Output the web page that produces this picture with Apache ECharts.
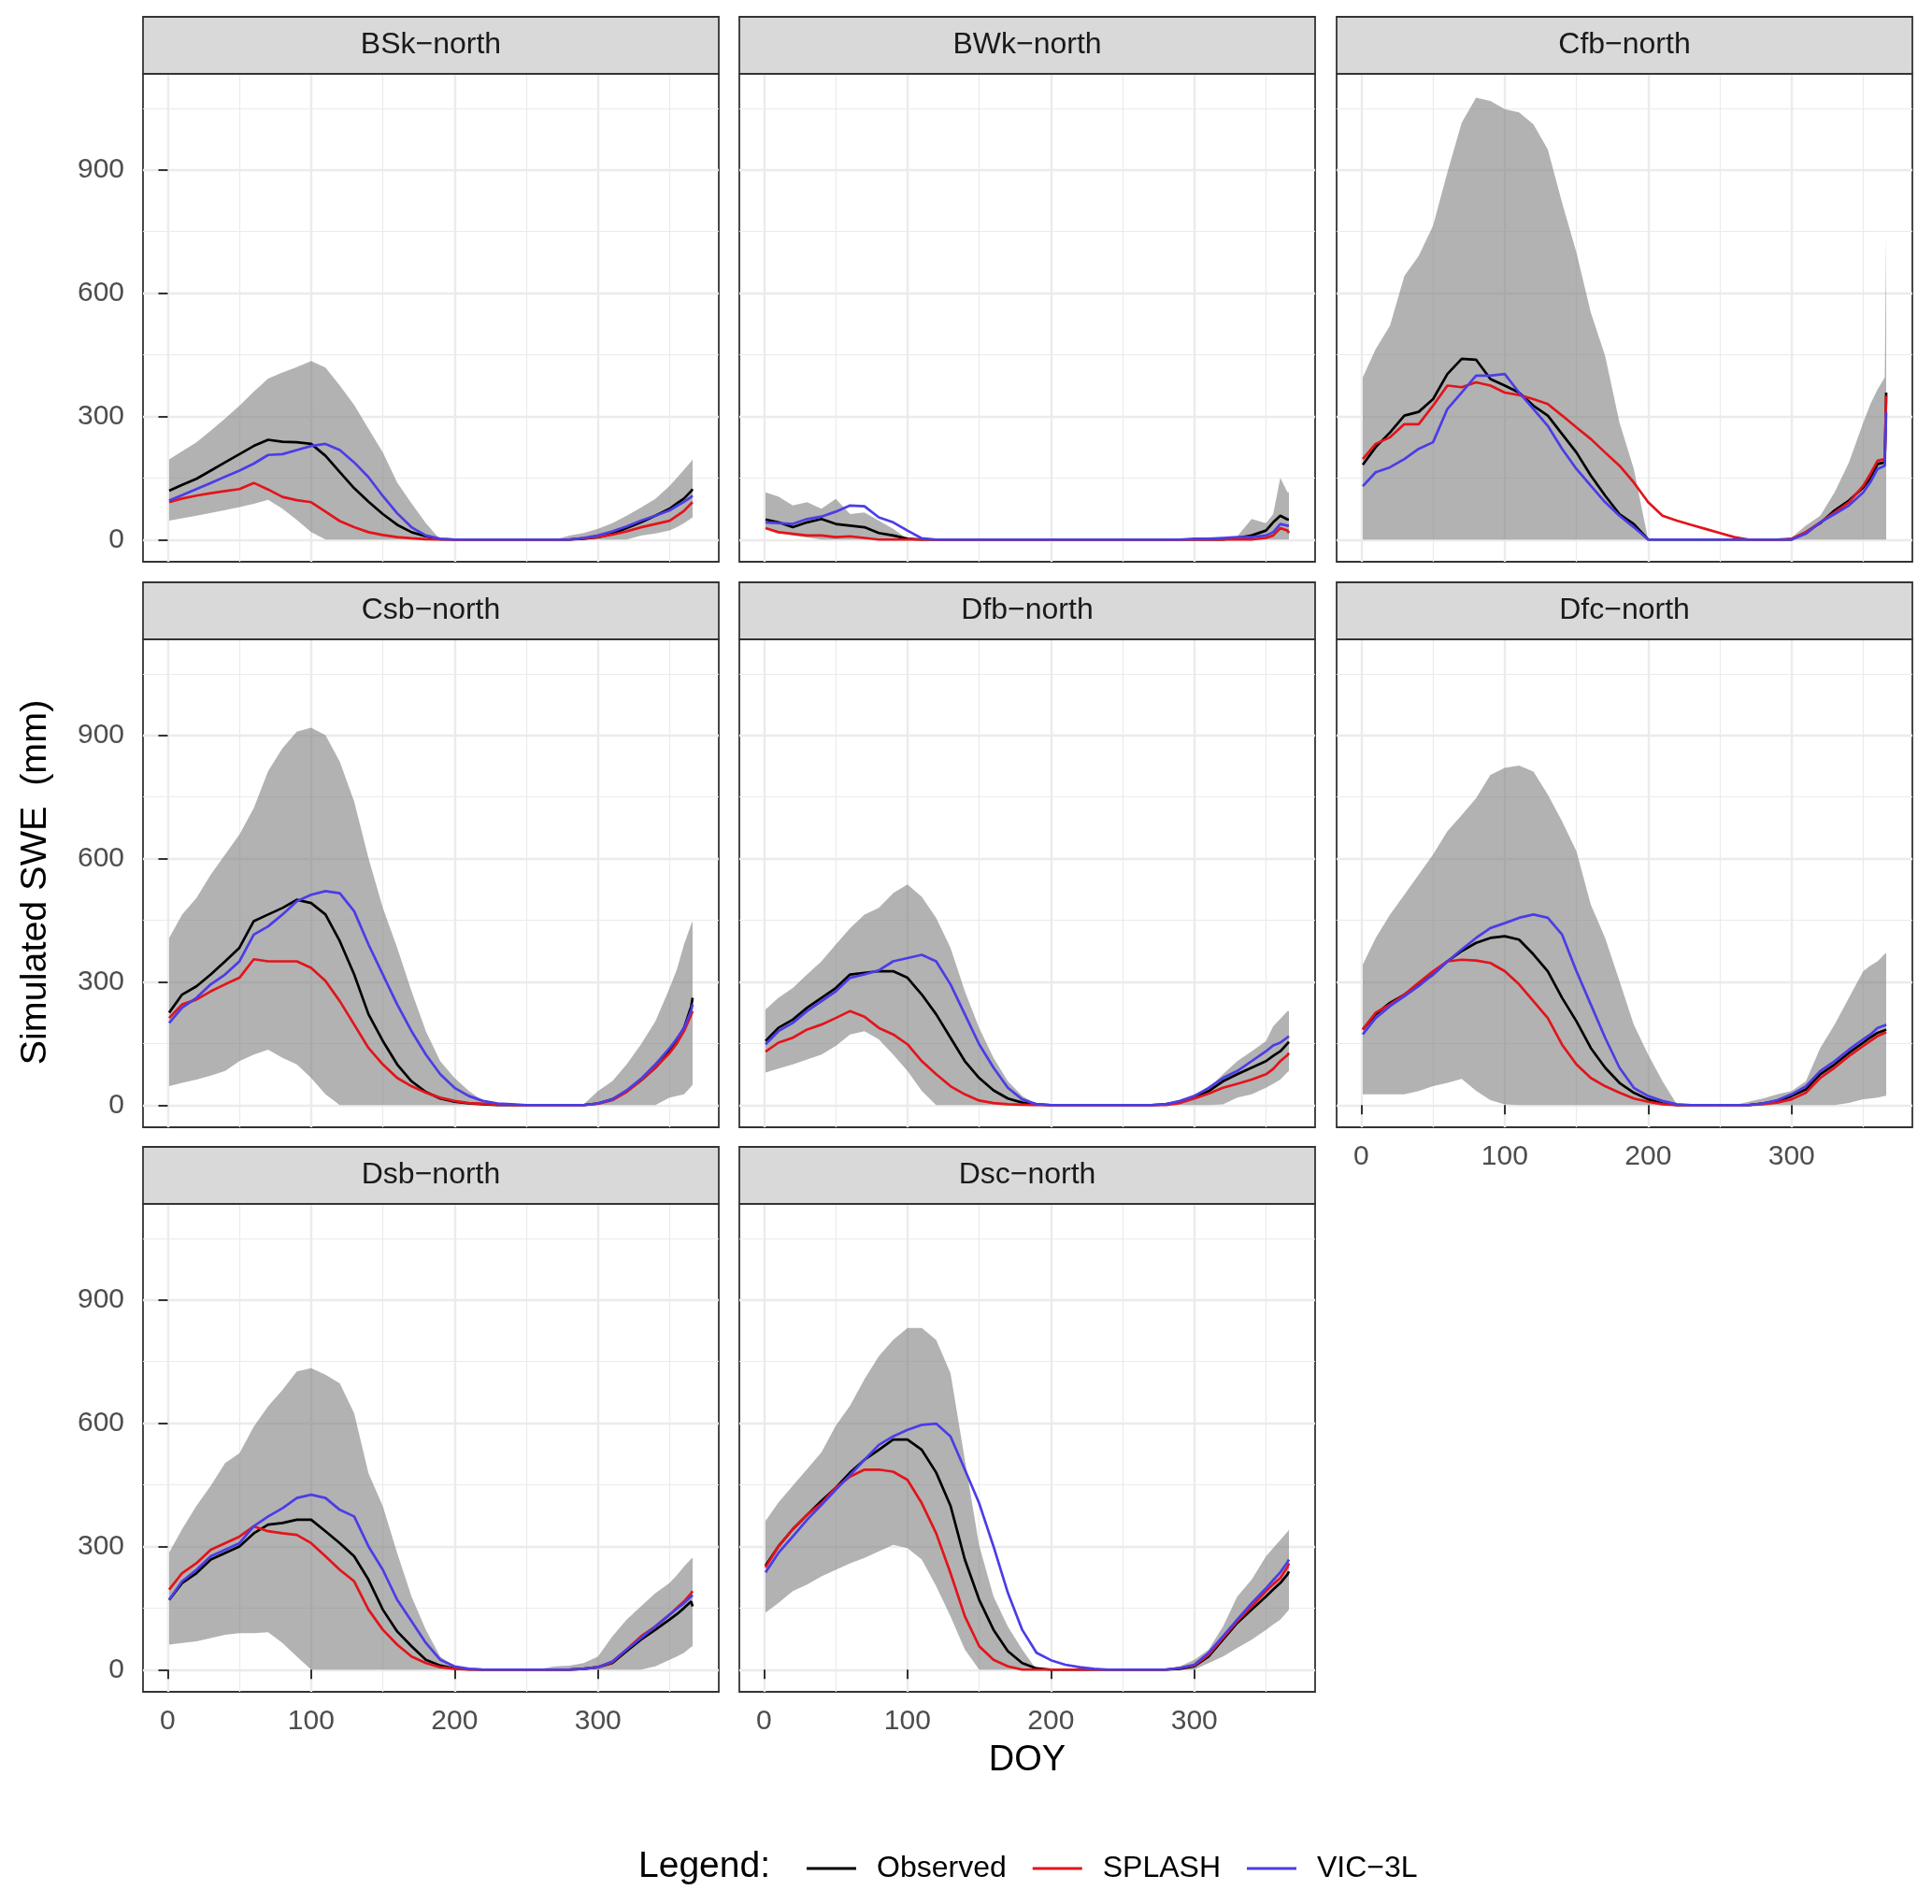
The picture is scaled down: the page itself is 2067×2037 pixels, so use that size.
<!DOCTYPE html>
<html>
<head>
<meta charset="utf-8">
<script src="https://cdn.jsdelivr.net/npm/echarts@6/dist/echarts.min.js"></script>
<style>
  html, body { margin: 0; padding: 0; background: #fff; }
  #chart { width: 2067px; height: 2037px; }
</style>
</head>
<body>
<div id="chart"></div>
<script>
// day of year, shared by every panel
const DOY = [1, 10, 20, 30, 40, 50, 60, 70, 80, 90, 100, 110, 120, 130, 140, 150, 160, 170, 180, 190,
  200, 210, 220, 230, 240, 250, 260, 270, 280, 290, 300, 310, 320, 330, 340, 350, 355, 360, 365, 366];

const xTicks = [0, 100, 200, 300];
const xMinor = [50, 150, 250, 350];
const yTicks = [0, 300, 600, 900];
const yMinor = [150, 450, 750, 1050];

// BSk-north
const bskHi = [195, 215, 237, 265, 295, 326, 360, 392, 407, 420, 435, 419, 375, 328, 270, 212, 139, 88, 40, 0, 0, 0, 0, 0, 0, 0, 0, 0, 10, 16, 26, 40, 58, 78, 99, 131, 150, 170, 190, 195];
const bskLo = [46, 52, 58, 65, 72, 79, 87, 97, 75, 48, 18, 0, 0, 0, 0, 0, 0, 0, 0, 0, 0, 0, 0, 0, 0, 0, 0, 0, 0, 0, 0, 0, 0, 10, 15, 22, 30, 40, 52, 54];
const bskObs = [119, 133, 148, 168, 188, 208, 228, 243, 238, 237, 233, 204, 164, 125, 92, 62, 36, 18, 8, 1, 0, 0, 0, 0, 0, 0, 0, 0, 0, 2, 6, 14, 28, 42, 58, 75, 88, 100, 118, 123];
const bskSplash = [91, 100, 107, 113, 118, 123, 138, 122, 104, 96, 91, 68, 45, 30, 18, 11, 6, 3, 1, 0, 0, 0, 0, 0, 0, 0, 0, 0, 0, 3, 6, 12, 20, 30, 38, 46, 58, 70, 88, 91];
const bskVic = [95, 108, 123, 138, 153, 168, 185, 206, 208, 218, 228, 233, 218, 188, 152, 106, 64, 30, 10, 2, 0, 0, 0, 0, 0, 0, 0, 0, 0, 4, 10, 20, 32, 46, 58, 71, 82, 92, 104, 107];

// BWk-north
const bwkHi = [115, 105, 83, 91, 75, 99, 62, 66, 46, 26, 2, 0, 0, 0, 0, 0, 0, 0, 0, 0, 0, 0, 0, 0, 0, 0, 0, 0, 0, 0, 0, 0, 0, 8, 50, 40, 62, 150, 115, 115];
const bwkLo = [26, 18, 10, 5, 0, 0, 0, 0, 0, 0, 0, 0, 0, 0, 0, 0, 0, 0, 0, 0, 0, 0, 0, 0, 0, 0, 0, 0, 0, 0, 0, 0, 0, 0, 0, 0, 0, 0, 0, 0];
const bwkObs = [49, 42, 30, 42, 50, 38, 34, 30, 16, 10, 2, 0, 0, 0, 0, 0, 0, 0, 0, 0, 0, 0, 0, 0, 0, 0, 0, 0, 0, 0, 0, 0, 0, 4, 10, 22, 42, 58, 49, 49];
const bwkSplash = [28, 18, 14, 10, 10, 6, 8, 4, 0, 0, 0, 0, 0, 0, 0, 0, 0, 0, 0, 0, 0, 0, 0, 0, 0, 0, 0, 0, 0, 0, 0, 0, 0, 0, 0, 4, 10, 28, 22, 16];
const bwkVic = [42, 40, 38, 50, 56, 68, 83, 81, 54, 42, 22, 3, 0, 0, 0, 0, 0, 0, 0, 0, 0, 0, 0, 0, 0, 0, 0, 0, 0, 0, 2, 2, 4, 6, 6, 10, 18, 38, 34, 34];

// Cfb-north
const cfbHi = [395, 464, 521, 642, 691, 764, 894, 1015, 1076, 1068, 1048, 1040, 1011, 950, 820, 699, 553, 447, 285, 172, 0, 0, 0, 0, 0, 0, 0, 0, 0, 0, 5, 34, 58, 115, 188, 285, 330, 366, 395, 740];
const cfbLo = [0, 0, 0, 0, 0, 0, 0, 0, 0, 0, 0, 0, 0, 0, 0, 0, 0, 0, 0, 0, 0, 0, 0, 0, 0, 0, 0, 0, 0, 0, 0, 0, 0, 0, 0, 0, 0, 0, 0, 0];
const cfbObs = [182, 225, 261, 302, 311, 342, 403, 440, 438, 391, 375, 358, 326, 302, 257, 212, 156, 107, 62, 38, 0, 0, 0, 0, 0, 0, 0, 0, 0, 0, 0, 18, 40, 71, 95, 127, 150, 184, 188, 358];
const cfbSplash = [196, 233, 249, 281, 281, 326, 375, 371, 383, 375, 358, 352, 342, 330, 302, 273, 245, 212, 180, 139, 91, 58, 46, 36, 26, 16, 6, 0, 0, 0, 2, 18, 42, 66, 91, 131, 160, 192, 196, 350];
const cfbVic = [130, 164, 176, 196, 221, 237, 318, 358, 399, 399, 403, 358, 318, 277, 221, 172, 131, 91, 58, 30, 0, 0, 0, 0, 0, 0, 0, 0, 0, 0, 0, 14, 42, 62, 83, 115, 140, 172, 180, 310];

// Csb-north
const csbHi = [407, 464, 504, 561, 610, 659, 723, 813, 869, 909, 919, 901, 836, 739, 601, 480, 383, 277, 180, 107, 66, 34, 10, 0, 0, 0, 0, 0, 0, 2, 34, 58, 99, 148, 204, 285, 330, 391, 440, 448];
const csbLo = [46, 54, 62, 72, 83, 107, 123, 135, 115, 99, 66, 26, 0, 0, 0, 0, 0, 0, 0, 0, 0, 0, 0, 0, 0, 0, 0, 0, 0, 0, 0, 0, 0, 0, 0, 18, 22, 26, 45, 50];
const csbObs = [225, 269, 289, 318, 350, 383, 448, 464, 480, 500, 492, 464, 399, 318, 221, 156, 99, 58, 32, 16, 8, 4, 2, 0, 0, 0, 0, 0, 0, 0, 4, 14, 34, 60, 91, 131, 158, 188, 240, 261];
const csbSplash = [212, 245, 257, 277, 294, 310, 355, 350, 350, 350, 334, 302, 253, 196, 139, 99, 66, 46, 30, 18, 10, 5, 3, 1, 0, 0, 0, 0, 0, 0, 3, 12, 32, 60, 91, 127, 150, 180, 220, 229];
const csbVic = [200, 237, 261, 294, 318, 350, 415, 435, 464, 496, 512, 521, 516, 472, 391, 318, 245, 180, 123, 75, 42, 22, 10, 4, 2, 0, 0, 0, 0, 0, 4, 14, 36, 64, 99, 139, 162, 188, 230, 245];

// Dfb-north
const dfbHi = [233, 261, 285, 318, 350, 391, 431, 464, 480, 516, 537, 507, 456, 383, 277, 188, 115, 58, 22, 2, 0, 0, 0, 0, 0, 0, 0, 0, 2, 10, 26, 42, 75, 107, 131, 156, 192, 210, 229, 229];
const dfbLo = [79, 89, 99, 111, 123, 144, 172, 180, 160, 123, 83, 34, 0, 0, 0, 0, 0, 0, 0, 0, 0, 0, 0, 0, 0, 0, 0, 0, 0, 0, 0, 0, 2, 18, 26, 42, 52, 62, 80, 83];
const dfbObs = [156, 188, 208, 237, 261, 285, 318, 322, 326, 326, 310, 269, 221, 164, 107, 66, 36, 16, 6, 2, 0, 0, 0, 0, 0, 0, 0, 0, 2, 8, 18, 34, 58, 75, 91, 107, 120, 131, 150, 154];
const dfbSplash = [130, 152, 164, 184, 196, 212, 229, 215, 188, 172, 148, 107, 75, 46, 26, 11, 5, 2, 1, 0, 0, 0, 0, 0, 0, 0, 0, 0, 0, 5, 16, 28, 42, 52, 62, 75, 88, 107, 122, 127];
const dfbVic = [148, 180, 200, 229, 253, 277, 310, 318, 328, 350, 358, 366, 350, 294, 221, 148, 91, 42, 14, 2, 0, 0, 0, 0, 0, 0, 0, 0, 2, 10, 22, 42, 66, 83, 107, 131, 145, 152, 165, 168];

// Dfc-north
const dfcHi = [342, 407, 464, 512, 561, 610, 667, 706, 747, 804, 821, 827, 812, 756, 691, 618, 488, 407, 302, 196, 123, 58, 2, 0, 0, 0, 0, 8, 16, 26, 34, 58, 139, 196, 261, 326, 340, 350, 368, 370];
const dfcLo = [26, 26, 26, 26, 34, 46, 54, 64, 35, 12, 2, 0, 0, 0, 0, 0, 0, 0, 0, 0, 0, 0, 0, 0, 0, 0, 0, 0, 0, 0, 0, 0, 0, 0, 5, 14, 16, 18, 22, 22];
const dfcObs = [184, 221, 249, 269, 294, 318, 350, 375, 395, 407, 411, 403, 367, 326, 261, 204, 139, 91, 54, 30, 14, 4, 0, 0, 0, 0, 0, 0, 4, 10, 22, 38, 75, 99, 127, 152, 165, 176, 182, 184];
const dfcSplash = [184, 225, 245, 269, 298, 326, 350, 354, 352, 346, 326, 294, 253, 212, 147, 99, 66, 46, 30, 16, 8, 2, 0, 0, 0, 0, 0, 0, 2, 6, 14, 30, 66, 91, 119, 144, 156, 168, 176, 178];
const dfcVic = [172, 212, 241, 265, 290, 318, 350, 379, 407, 431, 443, 456, 464, 456, 415, 326, 245, 164, 91, 42, 22, 10, 2, 0, 0, 0, 0, 0, 4, 12, 26, 46, 83, 107, 135, 160, 172, 188, 194, 196];

// Dsb-north
const dsbHi = [285, 342, 399, 448, 503, 527, 592, 641, 681, 726, 734, 718, 697, 624, 478, 398, 284, 178, 97, 32, 8, 0, 0, 0, 0, 0, 2, 8, 10, 16, 32, 81, 122, 154, 186, 211, 230, 251, 270, 272];
const dsbLo = [61, 65, 69, 77, 85, 89, 89, 91, 65, 32, 0, 0, 0, 0, 0, 0, 0, 0, 0, 0, 0, 0, 0, 0, 0, 0, 0, 0, 0, 0, 0, 0, 0, 0, 8, 24, 32, 41, 55, 57];
const dsbObs = [170, 211, 235, 268, 284, 300, 332, 353, 357, 365, 365, 337, 308, 276, 219, 146, 93, 57, 24, 10, 3, 1, 0, 0, 0, 0, 0, 0, 0, 2, 6, 16, 45, 73, 97, 122, 135, 150, 166, 154];
const dsbSplash = [195, 235, 259, 292, 308, 324, 349, 337, 332, 328, 308, 276, 243, 215, 146, 97, 61, 32, 16, 6, 2, 0, 0, 0, 0, 0, 0, 0, 0, 2, 6, 18, 49, 81, 105, 134, 150, 166, 186, 191];
const dsbVic = [170, 215, 243, 276, 292, 308, 349, 373, 393, 418, 426, 418, 389, 373, 300, 243, 170, 118, 65, 24, 8, 2, 0, 0, 0, 0, 0, 0, 0, 2, 6, 20, 49, 77, 105, 134, 148, 162, 178, 182];

// Dsc-north
const dscHi = [362, 407, 448, 488, 529, 594, 643, 707, 763, 803, 832, 832, 803, 722, 511, 302, 178, 105, 49, 0, 0, 0, 0, 0, 0, 0, 0, 0, 2, 8, 24, 49, 105, 178, 219, 276, 296, 316, 336, 341];
const dscLo = [139, 162, 191, 207, 227, 243, 259, 272, 288, 304, 296, 268, 203, 130, 49, 0, 0, 0, 0, 0, 0, 0, 0, 0, 0, 0, 0, 0, 0, 0, 0, 16, 32, 53, 73, 97, 110, 122, 142, 146];
const dscObs = [253, 300, 342, 377, 411, 443, 480, 511, 535, 560, 560, 535, 480, 399, 268, 170, 97, 45, 16, 3, 0, 0, 0, 0, 0, 0, 0, 0, 0, 2, 8, 32, 73, 114, 146, 178, 195, 211, 232, 239];
const dscSplash = [249, 300, 342, 377, 405, 443, 470, 487, 487, 482, 462, 405, 332, 235, 130, 57, 24, 8, 0, 0, 0, 0, 0, 0, 0, 0, 0, 0, 0, 4, 10, 36, 77, 118, 154, 191, 208, 223, 250, 259];
const dscVic = [237, 284, 324, 365, 401, 438, 474, 511, 547, 568, 584, 596, 599, 568, 487, 405, 300, 187, 97, 41, 23, 12, 6, 2, 0, 0, 0, 0, 0, 4, 12, 41, 81, 122, 162, 198, 218, 237, 262, 268];

const panels = [
  { name: 'BSk\u2212north', lo: bskLo, hi: bskHi, obs: bskObs, spl: bskSplash, vic: bskVic, row: 0, col: 0, showX: false, showY: true },
  { name: 'BWk\u2212north', lo: bwkLo, hi: bwkHi, obs: bwkObs, spl: bwkSplash, vic: bwkVic, row: 0, col: 1, showX: false, showY: false },
  { name: 'Cfb\u2212north', lo: cfbLo, hi: cfbHi, obs: cfbObs, spl: cfbSplash, vic: cfbVic, row: 0, col: 2, showX: false, showY: false },
  { name: 'Csb\u2212north', lo: csbLo, hi: csbHi, obs: csbObs, spl: csbSplash, vic: csbVic, row: 1, col: 0, showX: false, showY: true },
  { name: 'Dfb\u2212north', lo: dfbLo, hi: dfbHi, obs: dfbObs, spl: dfbSplash, vic: dfbVic, row: 1, col: 1, showX: false, showY: false },
  { name: 'Dfc\u2212north', lo: dfcLo, hi: dfcHi, obs: dfcObs, spl: dfcSplash, vic: dfcVic, row: 1, col: 2, showX: true, showY: false },
  { name: 'Dsb\u2212north', lo: dsbLo, hi: dsbHi, obs: dsbObs, spl: dsbSplash, vic: dsbVic, row: 2, col: 0, showX: true, showY: true },
  { name: 'Dsc\u2212north', lo: dscLo, hi: dscHi, obs: dscObs, spl: dscSplash, vic: dscVic, row: 2, col: 1, showX: true, showY: false }
];

const FONT = '"Liberation Sans", Arial, Helvetica, sans-serif';
const COL_X = [153, 791, 1430];
const ROW_Y = [79, 684, 1288];
const PW = 616, PH = 522, STRIP_H = 61;
const X_MIN = -17.25, X_MAX = 384.25, Y_MIN = -54, Y_MAX = 1134;
const RIBBON = 'rgba(127,127,127,0.6)';

const grids = [], xAxes = [], yAxes = [], series = [], graphics = [];

function pairs(vals) {
  return DOY.map(function (d, k) { return [d, vals[k]]; });
}

// one polygon per panel: upper edge forward, lower edge back
function ribbonRenderer(band) {
  return function (params, api) {
    if (params.dataIndex !== 0) return null;
    const pts = [];
    for (let k = 0; k < band.length; k++) pts.push(api.coord([band[k][0], band[k][2]]));
    for (let k = band.length - 1; k >= 0; k--) pts.push(api.coord([band[k][0], band[k][1]]));
    return { type: 'polygon', shape: { points: pts }, style: { fill: RIBBON } };
  };
}

panels.forEach(function (p, i) {
  const left = COL_X[p.col], top = ROW_Y[p.row];
  grids.push({
    left: left, top: top, width: PW, height: PH,
    show: true, backgroundColor: '#ffffff', borderColor: '#333333', borderWidth: 1.8,
    containLabel: false, outerBoundsMode: 'none'
  });

  // major axis (ticks, labels, major grid)
  xAxes.push({
    gridIndex: i, type: 'value', min: X_MIN, max: X_MAX,
    axisLine: { show: false },
    axisTick: { show: p.showX, customValues: xTicks, length: 10, lineStyle: { color: '#333333', width: 2 } },
    axisLabel: { show: p.showX, customValues: xTicks, color: '#4D4D4D', fontSize: 30, fontFamily: FONT, margin: 17 },
    splitLine: { show: true, lineStyle: { color: '#EBEBEB', width: 2.4 } }
  });
  // minor grid only
  xAxes.push({
    gridIndex: i, type: 'value', min: X_MIN, max: X_MAX, position: 'bottom',
    axisLine: { show: false },
    axisTick: { show: false, customValues: xMinor },
    axisLabel: { show: false },
    splitLine: { show: true, lineStyle: { color: '#EBEBEB', width: 1.2 } }
  });
  yAxes.push({
    gridIndex: i, type: 'value', min: Y_MIN, max: Y_MAX,
    axisLine: { show: false },
    axisTick: { show: p.showY, customValues: yTicks, length: 10, lineStyle: { color: '#333333', width: 2 } },
    axisLabel: { show: p.showY, customValues: yTicks, color: '#4D4D4D', fontSize: 30, fontFamily: FONT, margin: 20 },
    splitLine: { show: true, lineStyle: { color: '#EBEBEB', width: 2.4 } }
  });
  yAxes.push({
    gridIndex: i, type: 'value', min: Y_MIN, max: Y_MAX, position: 'left',
    axisLine: { show: false },
    axisTick: { show: false, customValues: yMinor },
    axisLabel: { show: false },
    splitLine: { show: true, lineStyle: { color: '#EBEBEB', width: 1.2 } }
  });

  const xi = 2 * i, yi = 2 * i;
  const band = DOY.map(function (d, k) { return [d, p.lo[k], p.hi[k]]; });
  series.push({
    name: 'range', type: 'custom', xAxisIndex: xi, yAxisIndex: yi,
    data: band, encode: { x: 0, y: [1, 2] },
    renderItem: ribbonRenderer(band), silent: true, z: 1
  });
  [['Observed', p.obs, '#000000'], ['SPLASH', p.spl, '#E3141B'], ['VIC\u22123L', p.vic, '#4B3DE6']].forEach(function (s) {
    series.push({
      name: s[0], type: 'line', xAxisIndex: xi, yAxisIndex: yi,
      data: pairs(s[1]), symbol: 'none',
      lineStyle: { color: s[2], width: 2.7 }, itemStyle: { color: s[2] }, z: 3
    });
  });

  // facet strip
  graphics.push({
    type: 'rect', shape: { x: left, y: top - STRIP_H, width: PW, height: STRIP_H },
    style: { fill: '#D9D9D9', stroke: '#333333', lineWidth: 1.8 }, z: 10
  });
  graphics.push({
    type: 'text', x: left + PW / 2, y: top - STRIP_H / 2,
    style: { text: p.name, fill: '#1A1A1A', fontSize: 32, fontFamily: FONT, align: 'center', verticalAlign: 'middle' }, z: 11
  });
});

graphics.push({
  type: 'text', x: 1099, y: 1884,
  style: { text: 'DOY', fill: '#000000', fontSize: 38, fontFamily: FONT, align: 'center', verticalAlign: 'middle' }
});
graphics.push({
  type: 'text', x: 38, y: 944, rotation: Math.PI / 2,
  style: { text: 'Simulated SWE  (mm)', fill: '#000000', fontSize: 39.5, fontFamily: FONT, align: 'center', verticalAlign: 'middle' }
});
graphics.push({
  type: 'text', x: 683, y: 1997,
  style: { text: 'Legend:', fill: '#000000', fontSize: 39, fontFamily: FONT, align: 'left', verticalAlign: 'middle' }
});

const chart = echarts.init(document.getElementById('chart'));
chart.setOption({
  backgroundColor: '#ffffff',
  animation: false,
  grid: grids,
  xAxis: xAxes,
  yAxis: yAxes,
  series: series,
  legend: {
    data: ['Observed', 'SPLASH', 'VIC\u22123L'],
    left: 863, top: 1983, padding: 0,
    icon: 'rect', itemWidth: 53, itemHeight: 3, itemGap: 28,
    textStyle: { fontSize: 32, color: '#000000', fontFamily: FONT, padding: [0, 0, 0, 17] }
  },
  graphic: graphics
});
window.onresize = chart.resize;
</script>
</body>
</html>
